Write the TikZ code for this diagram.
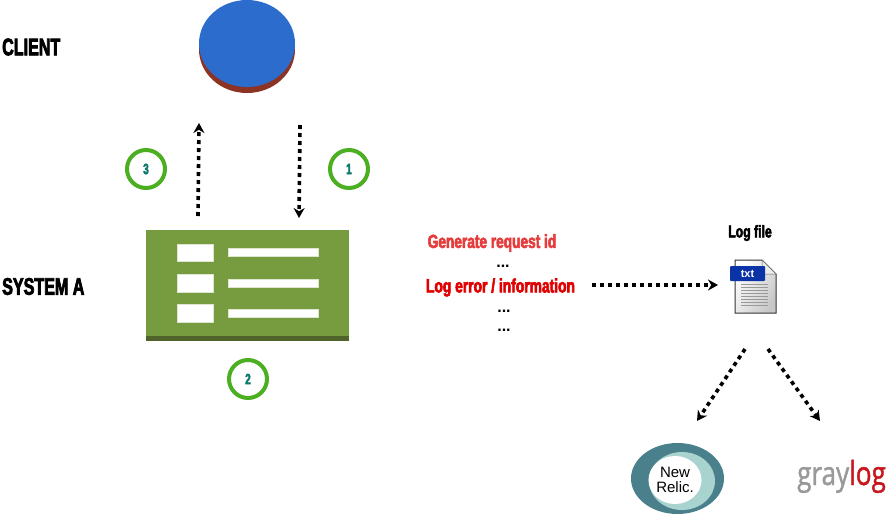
\documentclass[tikz,border=0pt]{standalone}
\usepackage{fontspec}
\setmainfont{Liberation Sans}
\newfontfamily\headfont[FakeStretch=.67,FakeBold=3]{Liberation Sans Bold}
\newfontfamily\lognfont[FakeStretch=.72,FakeBold=3]{Liberation Sans Bold}
\newfontfamily\logofont[FakeStretch=.79,FakeBold=1.2]{Open Sans}
\usetikzlibrary{arrows.meta,positioning,shapes.geometric}
\definecolor{numgrn}{HTML}{4CAF22}
\definecolor{numtxt}{HTML}{0F7A6B}
\definecolor{boxgrn}{HTML}{769C3F}
\definecolor{boxdrk}{HTML}{4F632B}
\definecolor{cliblu}{HTML}{2B6CCD}
\definecolor{clibrn}{HTML}{8C3324}
\definecolor{nrdark}{HTML}{4A7F8C}
\definecolor{nrlite}{HTML}{A8D3CE}
\definecolor{genred}{HTML}{E63C3C}
\definecolor{errred}{HTML}{E00000}
\definecolor{tabblu}{HTML}{0A33A8}
\definecolor{glgred}{HTML}{C8161D}
\tikzset{
  ttl/.style={font=\headfont\fontsize{24}{24}\selectfont,inner sep=0pt,anchor=west},
  sml/.style={font=\lognfont\fontsize{17}{17}\selectfont,inner sep=0pt},
  dts/.style={font=\bfseries\fontsize{16}{16}\selectfont,inner sep=0pt},
  num/.style={circle,draw=numgrn,line width=4pt,minimum size=38pt,inner sep=0pt,
              text=numtxt,font=\headfont\fontsize{15}{15}\selectfont},
  ar/.style={-{Stealth[length=10pt,width=11pt]},line width=3.6pt,dash pattern=on 4pt off 4pt},
  bar/.style={fill=white,draw=white!75!boxgrn,line width=.5pt,rectangle,inner sep=0pt},
}
\begin{document}
\begin{tikzpicture}[x=1pt,y=-1pt]
  \useasboundingbox (0,0) rectangle (887,515);
  % client
  \node[ttl] (cl) at (2,47){CLIENT};
  \node[ellipse,fill=clibrn,minimum width=96pt,minimum height=87pt,inner sep=0pt] (cs) at (247,49.5){};
  \node[ellipse,fill=cliblu,minimum width=96pt,minimum height=87pt,inner sep=0pt] (c) at (247,43.5){};
  % system a
  \node[ttl] (sa) at (2,286.5){SYSTEM A};
  \node[rectangle,fill=boxdrk,minimum width=203pt,minimum height=111pt,inner sep=0pt] (ss) at (247.5,285.5){};
  \node[rectangle,fill=boxgrn,minimum width=203pt,minimum height=106pt,inner sep=0pt] (s) at (247.5,283){};
  \foreach \y in {252.5,283,313}{
    \node[bar,minimum width=36pt,minimum height=17.5pt] at (195.5,\y){};
    \node[bar,minimum width=90pt,minimum height=8pt] at (273,\y){};
  }
  % steps
  \node[num] (n1) at (349,169){1};
  \node[num] (n2) at (248,379){2};
  \node[num] (n3) at (146,169){3};
  \coordinate (a1) at (300,125);
  \coordinate (a2) at (299,218);
  \coordinate (a3) at (198,216);
  \coordinate (a4) at (199,123);
  \draw[ar] (a1) -- (a2);
  \draw[ar] (a3) -- (a4);
  % log lines
  \node[sml,text=genred,font=\lognfont\fontsize{19}{19}\selectfont] (gen) at (492,243){Generate request id};
  \node[dts] (d1) at (503,266.5){...};
  \node[sml,text=errred,font=\lognfont\fontsize{19.2}{19.2}\selectfont] (err) at (500.5,287.5){Log error / information};
  \node[dts] (d2) at (504,311.5){...};
  \node[dts] (d3) at (504,330.5){...};
  \coordinate (a5) at (592,285);
  \coordinate (a6) at (718,285);
  \draw[ar] (a5) -- (a6);
  % log file
  \node[sml] (lf) at (750,233){Log file};
  \draw[black!80,line width=1pt,top color=white,bottom color=black!22,shading angle=60]
    (735,260) -- (762,260) -- (776,274) -- (776,313) -- (735,313) -- cycle;
  \draw[black!60,fill=black!8,line width=.5pt] (762,260) -- (762,274) -- (776,274) -- cycle;
  \foreach \y in {284,287,290,293,296,299,302,305}
    \draw[black!40,line width=.8pt] (741,\y) -- (768,\y);
  \node[rectangle,fill=tabblu,rounded corners=1pt,minimum width=35pt,minimum height=15pt,
        inner sep=0pt,text=white,font=\bfseries\fontsize{11}{11}\selectfont] (tx) at (747.5,273.5){txt};
  \coordinate (a7) at (745,349);
  \coordinate (a8) at (697,421);
  \coordinate (a9) at (768,349);
  \coordinate (a10) at (820,421);
  \draw[ar] (a7) -- (a8);
  \draw[ar] (a9) -- (a10);
  % logos
  \node[ellipse,fill=nrdark,minimum width=93pt,minimum height=71pt,inner sep=0pt] (nr) at (677.5,478.5){};
  \node[ellipse,fill=nrlite,minimum width=66pt,minimum height=58pt,inner sep=0pt] (nl) at (682,481){};
  \node[ellipse,fill=white,minimum width=50pt,minimum height=48pt,inner sep=0pt,align=center,
        font=\fontsize{15}{15}\selectfont] (nw) at (675,480){New\\Relic.};
  \node[inner sep=0pt,anchor=base west,font=\logofont\fontsize{33}{33}\selectfont,text=black!40] (gl) at (797,485)
    {gray\textcolor{glgred}{log}};
\end{tikzpicture}
\end{document}
